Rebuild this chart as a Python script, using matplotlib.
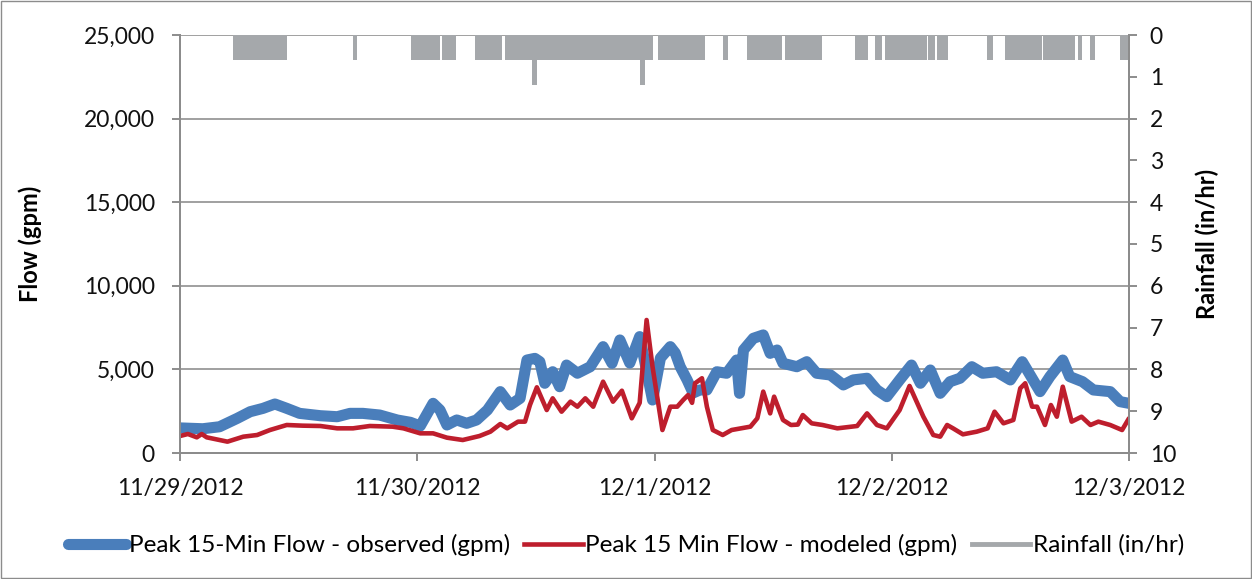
import numpy as np
import matplotlib
matplotlib.use("Agg")
from matplotlib import pyplot as plt
from matplotlib.lines import Line2D
from matplotlib.patches import Rectangle

plt.rcParams['font.family'] = ['Lato', 'DejaVu Sans']

# hours since 11/29/2012 00:00
obs_hours = [0, 2.3, 4.0, 5.8, 7.1, 8.4, 9.6, 10.8, 12.1, 14.2, 15.9, 17.2, 18.5, 20.2,
             22.0, 23.3, 24.3, 25.6, 26.3, 27.0, 28.0, 29.0, 30.0, 31.1, 32.4, 33.4,
             34.4, 35.1, 35.9, 36.4, 36.9, 37.7, 38.4, 39.1, 40.2, 41.5, 42.8, 43.7,
             44.5, 45.5, 46.5, 47.8, 48.6, 49.6, 50.1, 50.6, 51.3, 51.9, 52.6, 53.3,
             54.3, 55.3, 56.3, 56.6, 57.0, 58.0, 59.0, 59.7, 60.4, 61.0, 62.4, 63.4,
             64.4, 65.8, 67.1, 68.1, 69.5, 70.5, 71.5, 72.8, 74.0, 74.9, 75.9, 76.9,
             77.9, 78.9, 80.1, 81.2, 82.6, 84.0, 85.2, 86.0, 87.0, 88.0, 89.3, 90.0,
             91.3, 92.4, 94.1, 95.1, 96.0]
obs_flow = [1500, 1450, 1570, 2075, 2470, 2670, 2930, 2670, 2370, 2230, 2170, 2370, 2370,
            2270, 1970, 1835, 1615, 2970, 2570, 1675, 1975, 1775, 1975, 2570, 3670, 2870,
            3270, 5560, 5660, 5460, 4170, 4860, 3965, 5260, 4770, 5160, 6360, 5365,
            6760, 5380, 6960, 3170, 5680, 6360, 5980, 5160, 4370, 3590, 3770, 3770,
            4860, 4770, 5560, 3570, 6160, 6860, 7060, 5960, 6160, 5365, 5160, 5460,
            4770, 4665, 4070, 4370, 4470, 3770, 3370, 4370, 5260, 4170, 4965, 3570,
            4265, 4470, 5160, 4770, 4860, 4370, 5460, 4665, 3670, 4570, 5560, 4570,
            4265, 3770, 3670, 3070, 2970]

mod_hours = [0, 0.8, 1.7, 2.2, 2.7, 4.8, 6.4, 7.8, 9.1, 10.8, 12.4, 14.2, 15.9, 17.5,
             19.2, 21.5, 22.6, 24.3, 25.6, 27.0, 28.6, 30.3, 31.4, 32.4, 33.1, 34.2,
             34.9, 35.4, 36.1, 37.1, 37.7, 38.6, 39.5, 40.2, 41.0, 41.8, 42.8, 43.8,
             44.7, 45.7, 46.5, 47.2, 47.8, 48.8, 49.6, 50.3, 50.9, 51.4, 51.8, 52.1,
             52.8, 53.3, 53.9, 54.9, 55.8, 57.7, 58.4, 59.0, 59.7, 60.1, 61.0, 61.8,
             62.5, 63.0, 63.9, 65.0, 66.5, 68.5, 69.5, 70.5, 71.5, 72.8, 73.8, 75.2,
             76.2, 76.9, 77.6, 78.2, 79.2, 80.6, 81.7, 82.4, 83.3, 84.3, 85.0, 85.5,
             86.2, 86.7, 87.5, 88.1, 88.7, 89.3, 90.2, 91.2, 92.1, 92.9, 94.1, 95.3, 96.0]
mod_flow = [1017, 1136, 937, 1136, 937, 678, 976, 1076, 1375, 1675, 1635, 1615, 1475, 1475,
            1615, 1575, 1475, 1176, 1176, 917, 777, 1017, 1276, 1735, 1475, 1875,
            1875, 2870, 3930, 2570, 3270, 2470, 3070, 2770, 3270, 2770, 4265, 3070,
            3725, 2075, 3000, 7955, 5160, 1375, 2770, 2770, 3170, 3470, 3000, 4170,
            4470, 2770, 1375, 1076, 1375, 1575, 2075, 3670, 2370, 3370, 1975, 1675,
            1700, 2270, 1775, 1675, 1475, 1615, 2370, 1675, 1475, 2570, 4010, 2170,
            1076, 976, 1675, 1475, 1116, 1276, 1475, 2470, 1775, 1975, 3870, 4170,
            2770, 2770, 1675, 2870, 2170, 3965, 1875, 2170, 1675, 1875, 1675, 1375, 2075]

# rainfall periods: start hour, end hour, intensity (in/hr)
rain_start = [5.4, 17.5, 23.4, 26.5, 29.8, 32.9, 35.6, 46.5, 48.4, 54.9, 57.4, 61.2,
              68.3, 70.3, 71.3, 75.7, 76.6, 81.6, 83.5, 87.3, 90.8, 92.1, 95.1]
rain_end = [10.8, 17.9, 26.3, 27.9, 32.6, 47.8, 36.1, 47.0, 53.1, 55.4, 60.9, 64.9,
            69.6, 71.0, 75.6, 76.4, 77.7, 82.2, 87.2, 90.5, 91.2, 92.6, 96.0]
rain_rate = [0.6, 0.6, 0.6, 0.6, 0.6, 0.6, 1.2, 1.2, 0.6, 0.6, 0.6, 0.6,
             0.6, 0.6, 0.6, 0.6, 0.6, 0.6, 0.6, 0.6, 0.6, 0.6, 0.6]

day_ticks = [0, 24, 48, 72, 96]
day_labels = ['11/29/2012', '11/30/2012', '12/1/2012', '12/2/2012', '12/3/2012']

BLUE = '#4A7EBB'
RED = '#BE1E2D'
GRAY = '#A5A8AB'
AXIS = '#8C8C8C'

fig = plt.figure(figsize=(12.52, 5.79), dpi=100)
ax = fig.add_axes([180 / 1252, 1 - 453 / 579, 949 / 1252, 418 / 579])
ax2 = ax.twinx()

ax.set_xlim(0, 96)
ax.set_ylim(0, 25000)
ax.set_yticks(np.arange(0, 25001, 5000))
ax.set_yticklabels([f'{v:,}' for v in range(0, 25001, 5000)])
ax.set_xticks(day_ticks)
ax.set_xticklabels(day_labels)
ax.grid(axis='y', color='#A0A0A0', lw=1.4)
ax.set_axisbelow(True)

ax.plot(obs_hours, obs_flow, color=BLUE, lw=8, solid_capstyle='round',
        solid_joinstyle='round', zorder=3)
ax.plot(mod_hours, mod_flow, color=RED, lw=3.3, solid_joinstyle='round',
        solid_capstyle='round', zorder=4)

starts = np.array(rain_start)
widths = np.array(rain_end) - starts
ax2.bar(starts, rain_rate, width=widths, align='edge', color=GRAY, lw=0)
ax2.set_ylim(10, 0)
ax2.set_yticks(range(0, 11))

for a in (ax, ax2):
    a.spines['top'].set_visible(False)
    for s in ('left', 'right', 'bottom'):
        a.spines[s].set_color(AXIS)
        a.spines[s].set_linewidth(1.4)
    a.tick_params(colors=AXIS, labelcolor='#111111', labelsize=16.5, length=6, width=1.4)
ax.tick_params(axis='x', pad=12)
ax2.tick_params(axis='y', pad=9)
ax.tick_params(axis='y', pad=12)

ax.set_ylabel('Flow (gpm)', fontsize=17, fontweight='bold', labelpad=30)
ax2.set_ylabel('Rainfall (in/hr)', fontsize=17, fontweight='bold', labelpad=14)

handles = [Line2D([], [], color=BLUE, lw=8, solid_capstyle='round'),
           Line2D([], [], color=RED, lw=3.3),
           Line2D([], [], color=GRAY, lw=3.5)]
labels = ['Peak 15-Min Flow - observed (gpm)', 'Peak 15 Min Flow - modeled (gpm)',
          'Rainfall (in/hr)']
fig.legend(handles, labels, loc='center', bbox_to_anchor=(0.5, 1 - 545 / 579), ncol=3,
           frameon=False, fontsize=17.5, handlelength=2.4, handletextpad=0.1,
           columnspacing=0.6)

fig.patches.append(Rectangle((0.001, 0.001), 0.998, 0.998, transform=fig.transFigure,
                             fill=False, edgecolor='#8C8C8C', lw=1))

fig.savefig('out.png', dpi=100)
